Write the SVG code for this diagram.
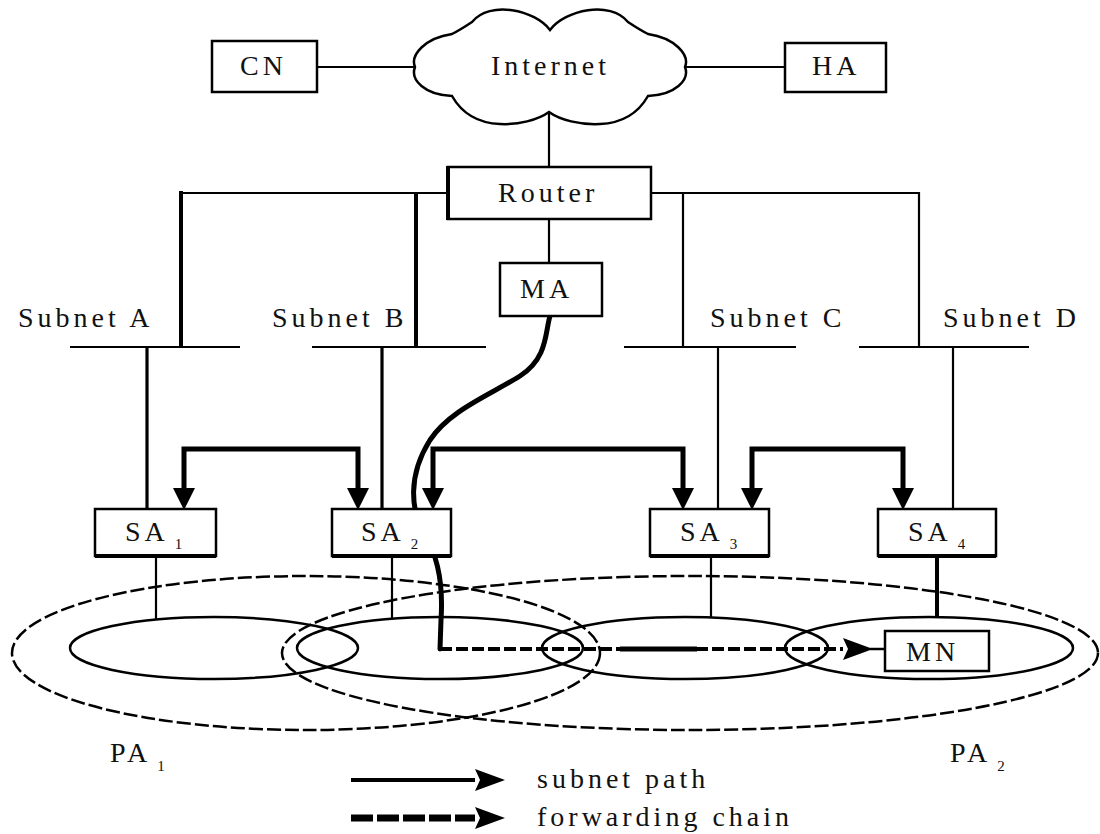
<svg xmlns="http://www.w3.org/2000/svg" width="1100" height="834" viewBox="0 0 1100 834">
<defs>
<style>
.t{font-family:"Liberation Serif","Times New Roman",serif;font-size:28px;letter-spacing:4px;fill:#111}
.sub{font-size:15px;letter-spacing:0}
.box{fill:#fff;stroke:#000;stroke-width:2.5}
.ln{fill:none;stroke:#000;stroke-width:2.2}
.thk{fill:none;stroke:#000;stroke-width:4}
.bus{fill:none;stroke:#000;stroke-width:5}
.cell{fill:none;stroke:#000;stroke-width:2.5}
.pa{fill:none;stroke:#000;stroke-width:2.5;stroke-dasharray:14 4}
</style>
<marker id="ah" markerUnits="userSpaceOnUse" markerWidth="22" markerHeight="22" refX="0" refY="11" orient="auto-start-reverse" viewBox="0 0 22 22"><path d="M0,0 L22,11 L0,22 Z" fill="#000"/></marker>
<marker id="ah2" markerUnits="userSpaceOnUse" markerWidth="30" markerHeight="22" refX="0" refY="11" orient="auto" viewBox="0 0 30 22"><path d="M0,0 L30,11 L0,22 L5,11 Z" fill="#000"/></marker>
</defs>
<rect width="1100" height="834" fill="#fff"/>

<g id="connectors">
<line class="ln" x1="317" y1="67" x2="415" y2="67"/>
<line class="ln" x1="685" y1="67" x2="785" y2="67"/>
<line class="ln" x1="549" y1="112" x2="549" y2="167"/>
<polyline class="ln" points="448,193 181,193"/>
<polyline class="ln" points="651,193 919,193"/>
<line class="thk" x1="181" y1="191" x2="181" y2="347"/>
<line class="thk" x1="416" y1="193" x2="416" y2="347"/>
<line class="ln" x1="683" y1="193" x2="683" y2="347"/>
<line class="ln" x1="919" y1="192" x2="919" y2="347"/>
<line class="ln" x1="549" y1="219" x2="549" y2="263"/>
<line class="ln" x1="70" y1="347" x2="240" y2="347"/>
<line class="ln" x1="312" y1="347" x2="486" y2="347"/>
<line class="ln" x1="624" y1="347" x2="796" y2="347"/>
<line class="ln" x1="859" y1="347" x2="1029" y2="347"/>
<line class="thk" x1="147" y1="347" x2="147" y2="509" style="stroke-width:3.2"/>
<line class="thk" x1="382" y1="347" x2="382" y2="509" style="stroke-width:3.2"/>
<line class="ln" x1="718" y1="347" x2="718" y2="509"/>
<line class="ln" x1="953" y1="347" x2="953" y2="509"/>
<path class="bus" d="M184 488 V449 H358 V488" marker-start="url(#ah)" marker-end="url(#ah)"/>
<path class="bus" d="M433 488 V449 H683 V488" marker-start="url(#ah)" marker-end="url(#ah)"/>
<path class="bus" d="M752 488 V449 H903 V488" marker-start="url(#ah)" marker-end="url(#ah)"/>
<line class="ln" x1="156" y1="556" x2="156" y2="619"/>
<line class="ln" x1="392" y1="556" x2="392" y2="619"/>
<line class="ln" x1="711" y1="556" x2="711" y2="617"/>
<line class="thk" x1="937" y1="556" x2="937" y2="618"/>
</g>

<g id="areas">
<ellipse class="pa" cx="306" cy="653" rx="294" ry="77"/>
<ellipse class="pa" cx="690" cy="653" rx="408" ry="77"/>
<ellipse class="cell" cx="214" cy="648" rx="144" ry="31"/>
<ellipse class="cell" cx="440" cy="648" rx="143" ry="31"/>
<ellipse class="cell" cx="685" cy="648" rx="143" ry="31"/>
<ellipse class="cell" cx="929" cy="648" rx="144" ry="31"/>
</g>

<g id="paths">
<path d="M550 316 C545 332 548 358 520 376 C490 395 450 410 430 440 C408 475 410 510 425 535 C440 560 443 590 441 620 L440 649" fill="none" stroke="#000" stroke-width="5" stroke-linecap="round" stroke-linejoin="round"/>
<line x1="440" y1="649" x2="843" y2="649" stroke="#000" stroke-width="4" stroke-dasharray="12 4" marker-end="url(#ah2)"/>
<line x1="620" y1="649" x2="697" y2="649" stroke="#000" stroke-width="5"/>
<line x1="870" y1="649" x2="885" y2="649" stroke="#000" stroke-width="2.5"/>
</g>

<g id="CN"><rect class="box" x="212" y="41" width="105" height="51"/><text class="t" x="240" y="75">CN</text></g>
<g id="Internet">
<path d="M550 30 C565 10 610 0 628 22 Q640 30 648 34 C675 38 690 55 685 67 C690 80 675 95 648 96 C640 110 625 123 600 124 C580 125 560 120 549 112 C538 120 518 125 500 124 C475 123 460 110 452 96 C425 95 410 80 415 67 C410 55 425 38 452 34 Q460 30 472 22 C490 0 535 10 550 30 Z" fill="#fff" stroke="#000" stroke-width="2.5"/>
<text class="t" x="491" y="75">Internet</text>
</g>
<g id="HA"><rect class="box" x="785" y="43" width="101" height="49"/><text class="t" x="812" y="75">HA</text></g>
<g id="Router"><rect class="box" x="448" y="167" width="203" height="52"/><line x1="448" y1="166" x2="448" y2="220" stroke="#000" stroke-width="4"/><text class="t" x="498" y="202">Router</text></g>
<g id="MA"><rect class="box" x="500" y="263" width="102" height="53"/><text class="t" x="520" y="298">MA</text></g>
<g id="SubnetA"><text class="t" x="18" y="327">Subnet A</text></g>
<g id="SubnetB"><text class="t" x="272" y="327">Subnet B</text></g>
<g id="SubnetC"><text class="t" x="710" y="327">Subnet C</text></g>
<g id="SubnetD"><text class="t" x="943" y="327">Subnet D</text></g>
<g id="SA1"><rect class="box" x="95" y="509" width="121" height="47"/><line x1="95" y1="556" x2="216" y2="556" stroke="#000" stroke-width="4"/><text class="t" x="125" y="541">SA<tspan class="sub" dx="6" dy="8">1</tspan></text></g>
<g id="SA2"><rect class="box" x="332" y="509" width="119" height="47"/><line x1="332" y1="556" x2="451" y2="556" stroke="#000" stroke-width="4"/><text class="t" x="361" y="541">SA<tspan class="sub" dx="6" dy="8">2</tspan></text></g>
<g id="SA3"><rect class="box" x="650" y="509" width="119" height="47"/><line x1="650" y1="556" x2="769" y2="556" stroke="#000" stroke-width="4"/><text class="t" x="680" y="541">SA<tspan class="sub" dx="6" dy="8">3</tspan></text></g>
<g id="SA4"><rect class="box" x="878" y="509" width="118" height="47"/><line x1="878" y1="556" x2="996" y2="556" stroke="#000" stroke-width="4"/><text class="t" x="908" y="541">SA<tspan class="sub" dx="6" dy="8">4</tspan></text></g>
<g id="MN"><rect class="box" x="885" y="631" width="104" height="40"/><text class="t" x="906" y="661">MN</text></g>
<g id="PA1"><text class="t" x="110" y="762">PA<tspan class="sub" dx="6" dy="9">1</tspan></text></g>
<g id="PA2"><text class="t" x="950" y="762">PA<tspan class="sub" dx="6" dy="9">2</tspan></text></g>

<g id="legend">
<line x1="351" y1="780" x2="475" y2="780" stroke="#000" stroke-width="4" marker-end="url(#ah2)"/>
<text class="t" x="537" y="788">subnet path</text>
<line x1="351" y1="818" x2="475" y2="818" stroke="#000" stroke-width="7" stroke-dasharray="22 4" marker-end="url(#ah2)"/>
<text class="t" x="537" y="826">forwarding chain</text>
</g>
</svg>
